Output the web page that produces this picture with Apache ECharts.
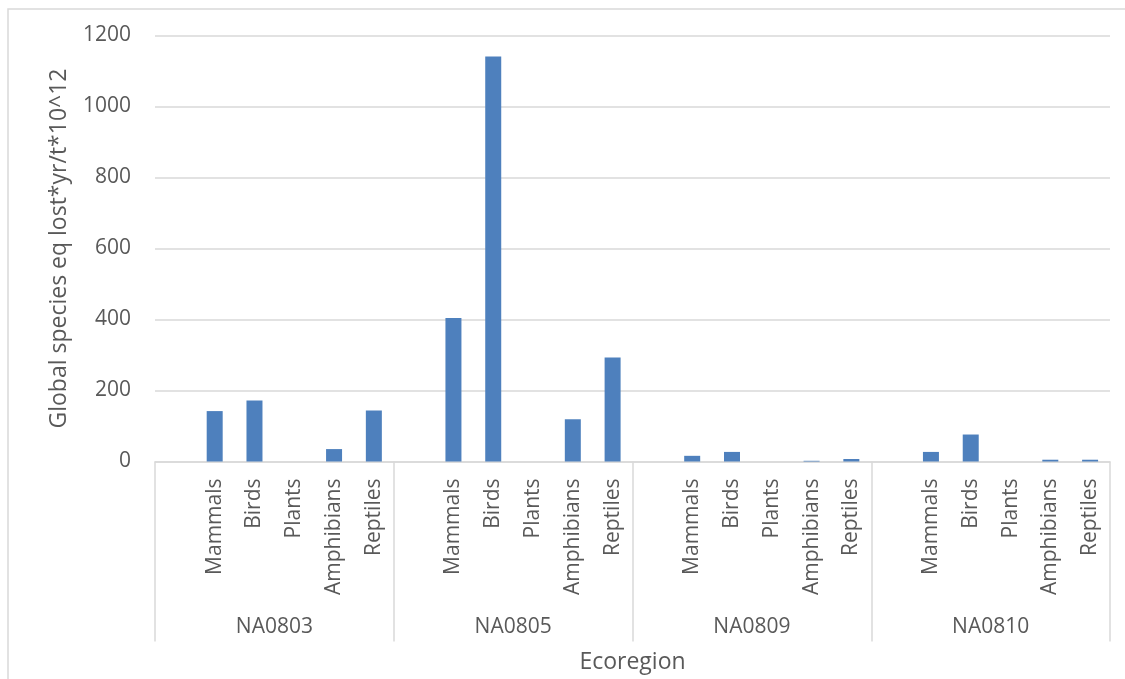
<!DOCTYPE html>
<html>
<head>
<meta charset="utf-8">
<script src="https://cdn.jsdelivr.net/npm/echarts@6/dist/echarts.min.js"></script>
<style>
  html, body { margin: 0; padding: 0; background: #fff; }
  #chart { width: 1125px; height: 679px; }
</style>
</head>
<body>
<div id="chart"></div>
<script>
// Ecoregions (outer category level) and taxa (inner level)
const regions = ['NA0803', 'NA0805', 'NA0809', 'NA0810'];
const taxa = ['Mammals', 'Birds', 'Plants', 'Amphibians', 'Reptiles'];

// Global species eq lost*yr/t*10^12, per taxon, in the order of `taxa`
const na0803 = [142, 172, 0, 35, 144];
const na0805 = [404, 1141, 0, 119, 293];
const na0809 = [16, 27, 0, 2, 7];
const na0810 = [27, 76, 0, 5, 5];

// Value axis ticks
const yTicks = { min: 0, max: 1200, interval: 200 };

const regionValues = [na0803, na0805, na0809, na0810];

// Each ecoregion block starts with one empty slot, followed by the five taxa
const innerCategories = [];
const barData = [];
regions.forEach(function (r, i) {
  innerCategories.push('');
  barData.push(null);
  taxa.forEach(function (t, j) {
    innerCategories.push(t);
    barData.push(regionValues[i][j]);
  });
});

const FONT = '"Open Sans", "Noto Sans", sans-serif';
const TEXT = '#595959';
const LINE = '#d9d9d9';
const LABEL_SIZE = 21;
const TITLE_SIZE = 23;

const chart = echarts.init(document.getElementById('chart'), null, { renderer: 'canvas' });

chart.setOption({
  animation: false,
  backgroundColor: '#ffffff',
  textStyle: { fontFamily: FONT },
  graphic: [{
    type: 'rect',
    silent: true,
    z: -10,
    shape: { x: 8, y: 9, width: 1300, height: 1000 },
    style: { fill: 'none', stroke: LINE, lineWidth: 1.5 }
  }],
  grid: {
    left: 155, right: 15, top: 35.5, bottom: 217.5,
    containLabel: false,
    outerBoundsMode: 'none'
  },
  xAxis: [
    {
      type: 'category',
      data: innerCategories,
      boundaryGap: true,
      axisLine: { show: true, lineStyle: { color: LINE, width: 1.5 } },
      axisTick: { show: false },
      axisLabel: {
        interval: 0,
        rotate: 90,
        margin: 17,
        color: TEXT,
        fontSize: LABEL_SIZE,
        fontFamily: FONT
      },
      splitLine: { show: false }
    },
    {
      type: 'category',
      data: regions,
      position: 'bottom',
      offset: 180,
      boundaryGap: true,
      axisLine: { show: false },
      axisTick: {
        show: true,
        inside: true,
        length: 180,
        interval: 0,
        lineStyle: { color: LINE, width: 1.5 }
      },
      axisLabel: {
        interval: 0,
        margin: -25,
        color: TEXT,
        fontSize: LABEL_SIZE,
        fontFamily: FONT
      },
      name: 'Ecoregion',
      nameLocation: 'middle',
      nameGap: 9,
      nameTextStyle: { color: TEXT, fontSize: TITLE_SIZE, fontFamily: FONT },
      splitLine: { show: false }
    }
  ],
  yAxis: {
    type: 'value',
    min: yTicks.min,
    max: yTicks.max,
    interval: yTicks.interval,
    name: 'Global species eq lost*yr/t*10^12',
    nameLocation: 'middle',
    nameRotate: 90,
    nameGap: 84,
    nameTextStyle: { color: TEXT, fontSize: TITLE_SIZE, fontFamily: FONT },
    axisLine: { show: false },
    axisTick: { show: false },
    axisLabel: {
      color: TEXT,
      fontSize: LABEL_SIZE,
      margin: 24,
      fontFamily: FONT,
      formatter: function (v) { return String(v); }
    },
    splitLine: { show: true, lineStyle: { color: LINE, width: 1.5 } }
  },
  series: [{
    type: 'bar',
    xAxisIndex: 0,
    data: barData,
    barWidth: 16,
    itemStyle: { color: '#4e80bd' }
  }]
});
</script>
</body>
</html>
